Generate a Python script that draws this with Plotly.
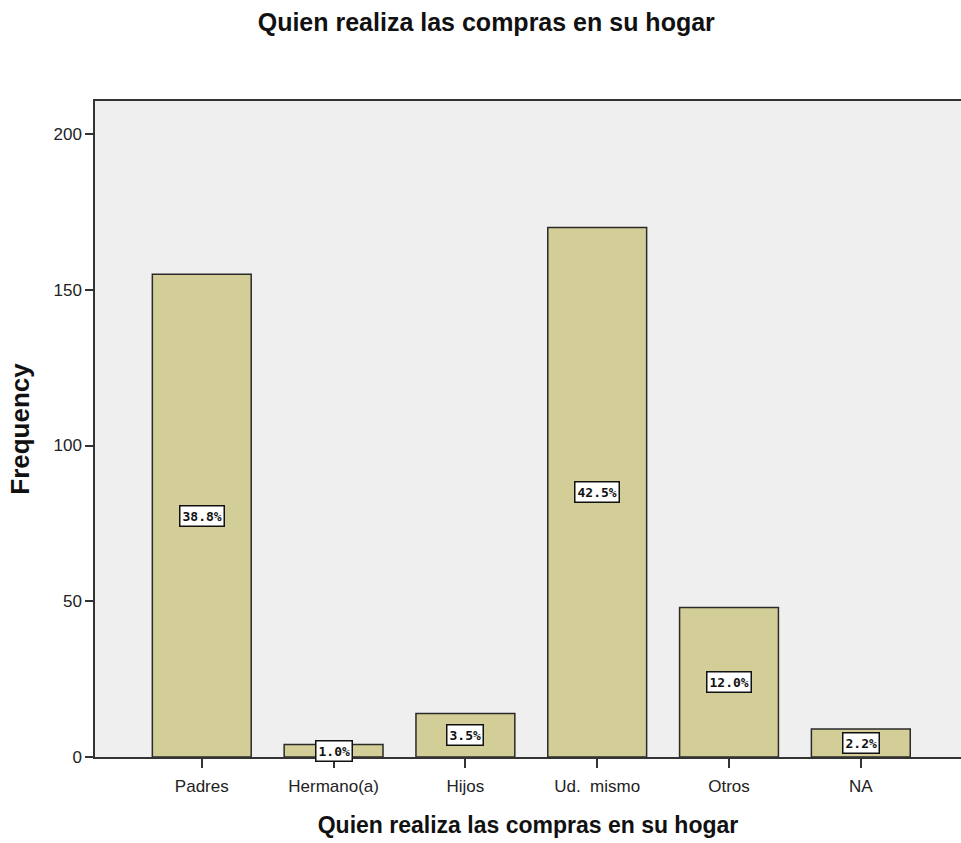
import plotly.graph_objects as go

# Frequencies by who does the household shopping
categories = ["Padres", "Hermano(a)", "Hijos", "Ud.  mismo", "Otros", "NA"]
frequencies = [155, 4, 14, 170, 48, 9]
percent_labels = ["38.8%", "1.0%", "3.5%", "42.5%", "12.0%", "2.2%"]
y_ticks = [0, 50, 100, 150, 200]

title_text = "Quien realiza las compras en su hogar"
font_family = "Liberation Sans, Arial, sans-serif"

x_pos = list(range(len(categories)))

fig = go.Figure()
fig.add_trace(go.Bar(
    x=x_pos,
    y=frequencies,
    width=0.75,
    marker=dict(color="#D3CE97", line=dict(color="#2a2a2a", width=1.5)),
    hoverinfo="skip",
))

for xi, val, lab in zip(x_pos, frequencies, percent_labels):
    fig.add_annotation(
        x=xi, y=val / 2, text="<b>" + lab + "</b>", showarrow=False,
        font=dict(family="DejaVu Sans Mono, monospace", size=13, color="#111"),
        bgcolor="white", bordercolor="#111", borderwidth=1.5, borderpad=2,
    )

fig.update_layout(
    width=961, height=843,
    margin=dict(l=95, r=0, t=101, b=86),
    paper_bgcolor="white",
    plot_bgcolor="#EFEFEF",
    showlegend=False,
    title=dict(text="<b>" + title_text + "</b>", x=0.506, xref="container", xanchor="center",
               y=0.974, yanchor="middle",
               font=dict(family=font_family, size=25, color="#111")),
    font=dict(family=font_family, color="#222"),
)

fig.update_xaxes(
    range=[-0.81, 5.76],
    tickmode="array", tickvals=x_pos, ticktext=categories,
    ticks="outside", ticklen=9, tickcolor="#333", tickwidth=1.5,
    ticklabelstandoff=4,
    tickfont=dict(size=17, color="#222"),
    showline=True, linecolor="#333", linewidth=1.5, mirror=True,
    showgrid=False, zeroline=False,
    title=dict(text="<b>" + title_text + "</b>", font=dict(size=23, color="#111"), standoff=22),
)
fig.update_yaxes(
    range=[0, 210.6],
    tickmode="array", tickvals=y_ticks,
    ticks="outside", ticklen=8, tickcolor="#333", tickwidth=1.5,
    tickfont=dict(size=17, color="#222"),
    showline=True, linecolor="#333", linewidth=1.5, mirror=False,
    showgrid=False, zeroline=False,
    title=dict(text="<b>Frequency</b>", font=dict(size=26, color="#111"), standoff=16),
)

fig.write_html("out.html")
